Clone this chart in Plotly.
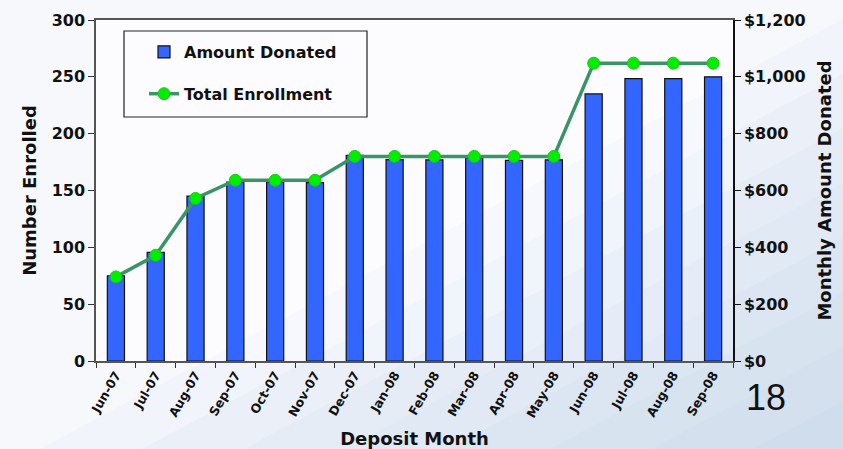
import plotly.graph_objects as go

months = ["Jun-07", "Jul-07", "Aug-07", "Sep-07", "Oct-07", "Nov-07", "Dec-07", "Jan-08",
          "Feb-08", "Mar-08", "Apr-08", "May-08", "Jun-08", "Jul-08", "Aug-08", "Sep-08"]
amount_donated = [300, 382, 580, 630, 630, 628, 724, 709, 708, 716, 706, 708, 940, 994, 994, 1000]
total_enrollment = [74, 93, 143, 159, 159, 159, 180, 180, 180, 180, 180, 180, 262, 262, 262, 262]
left_ticks = [0, 50, 100, 150, 200, 250, 300]
right_ticks = [0, 200, 400, 600, 800, 1000, 1200]
right_labels = ["$0", "$200", "$400", "$600", "$800", "$1,000", "$1,200"]

BOLD = "DejaVu Sans, Verdana, sans-serif"
PLAIN = "Liberation Sans, Arial, sans-serif"

fig = go.Figure()
# bars on the (right-side) primary axis so that the line overlay is drawn on top
fig.add_trace(go.Bar(
    x=months, y=amount_donated, name="Amount Donated", yaxis="y",
    marker=dict(color="#3366ff", line=dict(color="#111111", width=1.2)),
    legendgroup="a",
))
fig.add_trace(go.Scatter(
    x=months, y=total_enrollment, name="Total Enrollment", mode="lines+markers",
    yaxis="y2",
    line=dict(color="#3a9468", width=3.5),
    marker=dict(color="#00ee00", size=12, line=dict(color="#22c022", width=1)),
    legendgroup="b",
))

shapes = []
X1, Y0 = 1.18, -0.27
for k in range(1, 9):
    lx = 0.16 * k
    ly = 0.16 * k
    shapes.append(dict(
        type="path", xref="paper", yref="paper", layer="below",
        path=f"M {X1 - lx} {Y0} L {X1} {Y0} L {X1} {Y0 + ly} Z",
        fillcolor="#9db8dc", opacity=0.06, line=dict(width=0),
    ))
shapes.append(dict(
    type="rect", xref="paper", yref="paper", layer="above",
    x0=(124 - 96) / 637, x1=(367 - 96) / 637,
    y0=(361 - 117) / 341, y1=(361 - 31) / 341,
    fillcolor="rgba(0,0,0,0)", line=dict(color="#222222", width=1.2),
))

fig.update_layout(
    width=843, height=449,
    margin=dict(l=96, r=110, t=20, b=88),
    paper_bgcolor="#f7f8fc",
    plot_bgcolor="#fcfcff",
    font=dict(family=BOLD, color="#111111"),
    bargap=0.57,
    showlegend=True,
    shapes=shapes,
    legend=dict(
        x=(144 - 96) / 637, y=(361 - 35) / 341, xanchor="left", yanchor="top",
        bgcolor="rgba(255,255,255,0)", borderwidth=0,
        font=dict(size=16, family=BOLD, weight="bold"),
        traceorder="grouped", tracegroupgap=18,
    ),
    xaxis=dict(
        type="category", range=[-0.5, len(months) - 0.5], automargin=False,
        tickangle=-60, tickson="boundaries",
        ticks="outside", ticklen=5, tickcolor="#333333",
        showline=True, linecolor="#555555", linewidth=1.5, mirror=True,
        tickfont=dict(size=12.5, family=BOLD, weight="bold"),
        title=dict(text="Deposit Month", font=dict(size=18, family=BOLD, weight="bold"), standoff=14),
        showgrid=False,
    ),
    yaxis=dict(
        range=[0, 1200], tickvals=right_ticks, ticktext=right_labels,
        side="right", ticks="outside", ticklen=6, automargin=False,
        tickcolor="#111111", showline=True, linecolor="#111111", linewidth=1.5,
        tickfont=dict(size=16, family=BOLD, weight="bold"),
        title=dict(text="Monthly Amount Donated", font=dict(size=18, family=BOLD, weight="bold"), standoff=14),
        showgrid=False, zeroline=False,
    ),
    yaxis2=dict(
        range=[0, 300], tickvals=left_ticks, overlaying="y", side="left",
        ticks="outside", ticklen=6, automargin=False,
        tickcolor="#333333", showline=True, linecolor="#555555", linewidth=1.5,
        tickfont=dict(size=16, family=BOLD, weight="bold"),
        title=dict(text="Number Enrolled", font=dict(size=18, family=BOLD, weight="bold"), standoff=10),
        showgrid=False, zeroline=False,
    ),
    annotations=[dict(
        text="18", xref="paper", yref="paper", x=(766 - 96) / 637, y=(361 - 398) / 341,
        xanchor="center", yanchor="middle", showarrow=False,
        font=dict(size=36, family=PLAIN, color="#111111"),
    )],
)

fig.write_html("out.html", config={"displayModeBar": False},
               post_script="document.body.style.margin='0';")
